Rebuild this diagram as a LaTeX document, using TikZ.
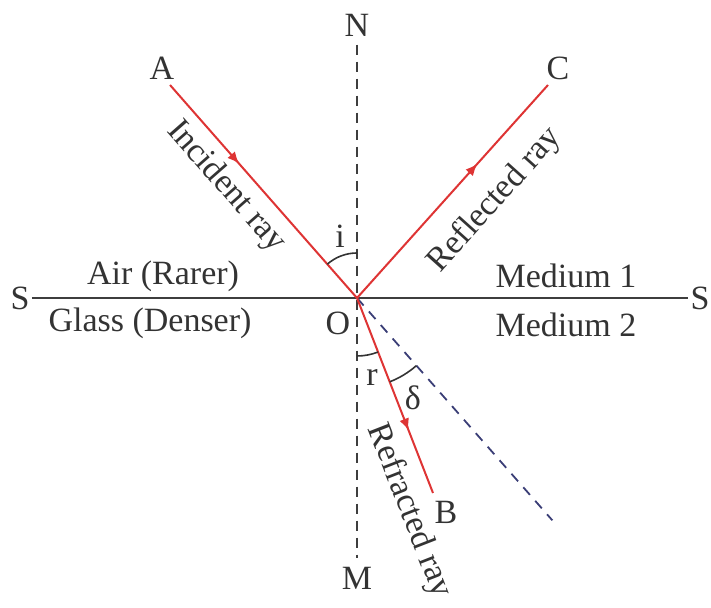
\documentclass[tikz,border=0pt]{standalone}
\usepackage{fontspec}
\setmainfont{Liberation Serif}
\usetikzlibrary{arrows.meta,calc,decorations.markings}
\definecolor{raycol}{RGB}{222,52,52}
\definecolor{extcol}{RGB}{58,62,118}
\definecolor{linecol}{RGB}{62,62,62}
\tikzset{lbl/.style={font=\fontsize{17}{20}\selectfont,text=black!80,inner sep=1pt},ray/.style={draw=raycol,line width=1pt},midarrow/.style={postaction={decorate},decoration={markings,mark=at position #1 with {\arrow{Latex[length=6pt,width=5pt]}}}},normal/.style={draw=linecol,line width=1pt,dash pattern=on 5pt off 3.5pt},ext/.style={draw=extcol,line width=0.9pt,dash pattern=on 5pt off 4pt},surface/.style={draw=linecol,line width=1.1pt},ang/.style={draw=black!80,line width=0.8pt}}

\begin{document}
\begin{tikzpicture}[x=0.5pt,y=0.5pt]
\path[use as bounding box] (0,0) rectangle (711,608);
\coordinate (O) at (357,310);
\node[lbl] (N) at (357,583) {N};
\node[lbl] (M) at (357,30) {M};
\node[lbl] (SL) at (20,310) {S};
\node[lbl] (SR) at (700,310) {S};
\node[lbl] (A) at (162,540) {A};
\node[lbl] (C) at (558,540) {C};
\node[lbl] (B) at (446,96) {B};
\coordinate (a) at (170,523);
\coordinate (c) at (548,523);
\coordinate (b) at (433,115);
\coordinate (d) at ($(O)+(-48.7:296)$);
% surface and normal
\draw[surface] (SL.east) -- (SR.west);
\draw[normal] ([yshift=-3pt]N.south) -- ([yshift=3pt]M.north);
\draw[ext] (O) -- (d);
% rays
\draw[ray,midarrow=0.37] (a) -- (O);
\draw[ray,midarrow=0.63] (O) -- (c);
\draw[ray,midarrow=0.68] (O) -- (b);
% angles
\draw[ang] (O) ++(90:45) arc[start angle=90,end angle=131.3,radius=45];
\draw[ang] (O) ++(270:58) arc[start angle=270,end angle=291.3,radius=58];
\draw[ang] (O) ++(291.3:90) arc[start angle=291.3,end angle=311.3,radius=90];
\foreach \name/\xx/\yy/\txt in {li/340/372/i,lo/338/285/O,lr/372/231/r,ld/413/210/δ,air/163/332/Air (Rarer),glass/150/285/Glass (Denser),med1/566/332/Medium 1,med2/566/283/Medium 2}{
\node[lbl] (\name) at (\xx,\yy) {\txt};
}
\node[lbl,rotate=-48.7] (inc) at (226,421) {Incident ray};
\node[lbl,rotate=48.1] (refl) at (495,408) {Reflected ray};
\node[lbl,rotate=-68.7] (refr) at (409,97) {Refracted ray};
\end{tikzpicture}
\end{document}
